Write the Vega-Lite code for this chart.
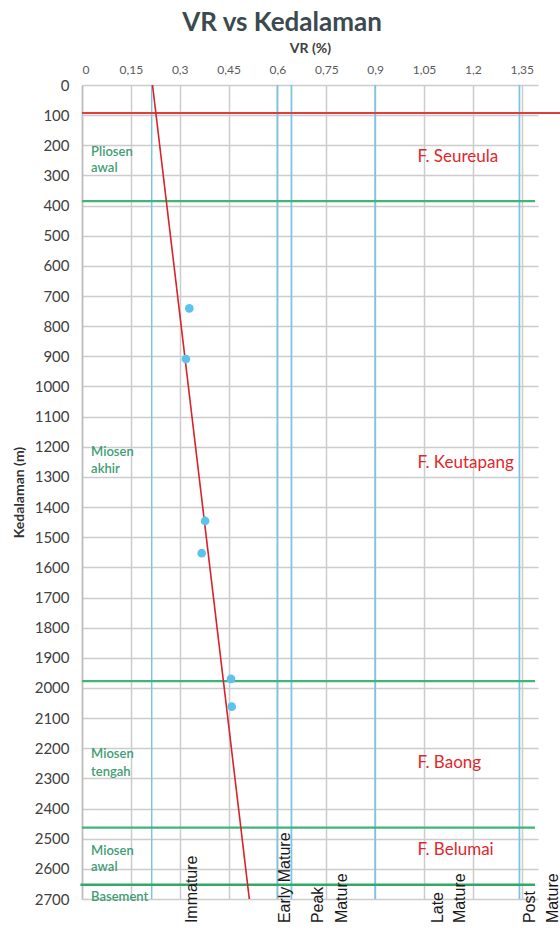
{
  "$schema": "https://vega.github.io/schema/vega-lite/v6.json",
  "width": 456,
  "height": 814,
  "autosize": {"type": "none"},
  "padding": {"left": 82, "top": 85, "right": 22, "bottom": 31},
  "background": "white",
  "config": {
    "font": "Lato",
    "view": {"stroke": null},
    "axis": {"ticks": false, "domain": false}
  },
  "title": {
    "text": "VR vs Kedalaman",
    "fontSize": 26,
    "fontWeight": "bold",
    "font": "Lato",
    "color": "#3b4a4f",
    "anchor": "middle",
    "dx": -28,
    "offset": 5
  },
  "encoding": {
    "x": {
      "field": "vr",
      "type": "quantitative",
      "scale": {"domain": [0, 1.4], "nice": false, "zero": false},
      "axis": {
        "orient": "top",
        "title": "VR (%)",
        "titleFontSize": 14,
        "titleFontWeight": "bold",
        "titleColor": "#404040",
        "titlePadding": 8,
        "values": [0, 0.15, 0.3, 0.45, 0.6, 0.75, 0.9, 1.05, 1.2, 1.35],
        "labelExpr": "replace(format(datum.value, '.2~f'), '.', ',')",
        "labelFontSize": 12,
        "labelColor": "#5a5a5a",
        "labelPadding": 9,
        "grid": true,
        "gridColor": "#cccccc",
        "gridWidth": 1.5
      }
    },
    "y": {
      "field": "depth",
      "type": "quantitative",
      "scale": {"domain": [0, 2700], "reverse": true, "nice": false, "zero": false},
      "axis": {
        "title": "Kedalaman (m)",
        "titleFontSize": 14,
        "titleFontWeight": "bold",
        "titleColor": "#333333",
        "titlePadding": 8,
        "format": "d",
        "values": [0,100,200,300,400,500,600,700,800,900,1000,1100,1200,1300,1400,1500,1600,1700,1800,1900,2000,2100,2200,2300,2400,2500,2600,2700],
        "labelFontSize": 15,
        "labelColor": "#404040",
        "labelPadding": 13,
        "grid": true,
        "gridColor": "#cccccc",
        "gridWidth": 1.5,
        "domain": true,
        "domainColor": "#bdbdbd",
        "domainWidth": 1.5
      }
    }
  },
  "layer": [
    {
      "data": {"values": [
        {"vr": 0.214, "depth": 0, "depth2": 2700, "w": "thin"},
        {"vr": 0.6, "depth": 0, "depth2": 2700, "w": "thick"},
        {"vr": 0.643, "depth": 0, "depth2": 2700, "w": "thick"},
        {"vr": 0.9, "depth": 0, "depth2": 2700, "w": "thick"},
        {"vr": 1.343, "depth": 0, "depth2": 2700, "w": "thick"}
      ]},
      "mark": {"type": "rule", "color": "#7cc4df"},
      "encoding": {
        "y2": {"field": "depth2"},
        "strokeWidth": {"field": "w", "type": "nominal", "scale": {"domain": ["thin", "thick"], "range": [1.5, 2.5]}, "legend": null}
      }
    },
    {
      "data": {"values": [
        {"vr": 0, "vr2": 1.47, "depth": 93, "kind": "red"},
        {"vr": 0, "vr2": 1.391, "depth": 385, "kind": "green"},
        {"vr": 0, "vr2": 1.391, "depth": 1977, "kind": "green"},
        {"vr": 0, "vr2": 1.391, "depth": 2463, "kind": "green"},
        {"vr": -0.005, "vr2": 1.391, "depth": 2653, "kind": "green2"}
      ]},
      "mark": {"type": "rule", "clip": false},
      "encoding": {
        "x2": {"field": "vr2"},
        "color": {"field": "kind", "type": "nominal", "scale": {"domain": ["red", "green", "green2"], "range": ["#e43b3b", "#3fb676", "#33a766"]}, "legend": null},
        "strokeWidth": {"field": "kind", "type": "nominal", "scale": {"domain": ["red", "green", "green2"], "range": [2, 2, 3]}, "legend": null}
      }
    },
    {
      "data": {"values": [
        {"vr": 0.2165, "depth": 0},
        {"vr": 0.5137, "depth": 2700}
      ]},
      "mark": {"type": "line", "color": "#d8232a", "strokeWidth": 1.6}
    },
    {
      "data": {"values": [
        {"vr": 0.3295, "depth": 741},
        {"vr": 0.319, "depth": 909},
        {"vr": 0.378, "depth": 1446},
        {"vr": 0.3675, "depth": 1553},
        {"vr": 0.4575, "depth": 1970},
        {"vr": 0.4596, "depth": 2062}
      ]},
      "mark": {"type": "circle", "color": "#5bc3ec", "opacity": 1, "size": 75}
    },
    {
      "data": {"values": [
        {"vr": 0.028, "depth": 222, "label": "Pliosen"},
        {"vr": 0.028, "depth": 275, "label": "awal"},
        {"vr": 0.028, "depth": 1217, "label": "Miosen"},
        {"vr": 0.028, "depth": 1274, "label": "akhir"},
        {"vr": 0.028, "depth": 2219, "label": "Miosen"},
        {"vr": 0.028, "depth": 2279, "label": "tengah"},
        {"vr": 0.028, "depth": 2541, "label": "Miosen"},
        {"vr": 0.028, "depth": 2594, "label": "awal"},
        {"vr": 0.028, "depth": 2692, "label": "Basement"}
      ]},
      "mark": {"type": "text", "align": "left", "baseline": "middle", "fontSize": 13, "fontWeight": 600, "color": "#419d74", "clip": false},
      "encoding": {"text": {"field": "label"}}
    },
    {
      "data": {"values": [
        {"vr": 1.03, "depth": 239, "label": "F. Seureula"},
        {"vr": 1.03, "depth": 1254, "label": "F. Keutapang"},
        {"vr": 1.03, "depth": 2249, "label": "F. Baong"},
        {"vr": 1.03, "depth": 2537, "label": "F. Belumai"}
      ]},
      "mark": {"type": "text", "align": "left", "baseline": "middle", "fontSize": 17, "color": "#e2272b", "clip": false},
      "encoding": {"text": {"field": "label"}}
    },
    {
      "data": {"values": [
        {"vr": 0.337, "depth": 2780, "label": "Immature"},
        {"vr": 0.623, "depth": 2780, "label": "Early Mature"},
        {"vr": 0.725, "depth": 2780, "label": "Peak"},
        {"vr": 0.797, "depth": 2780, "label": "Mature"},
        {"vr": 1.093, "depth": 2780, "label": "Late"},
        {"vr": 1.161, "depth": 2780, "label": "Mature"},
        {"vr": 1.376, "depth": 2780, "label": "Post"},
        {"vr": 1.446, "depth": 2780, "label": "Mature"}
      ]},
      "mark": {"type": "text", "angle": 270, "align": "left", "baseline": "middle", "fontSize": 16, "font": "Liberation Sans", "color": "#1a1a1a", "clip": false},
      "encoding": {"text": {"field": "label"}}
    }
  ]
}
